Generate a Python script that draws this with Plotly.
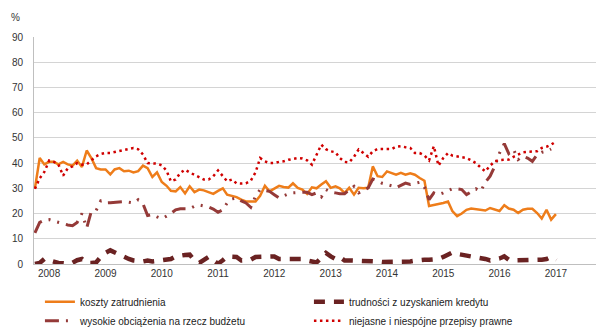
import pandas as pd
import plotly.graph_objects as go

# Monthly survey readings, Oct 2007 - Jan 2017 (% of firms citing the barrier)
months = pd.date_range("2007-10-01", periods=112, freq="MS")

koszty_zatrudnienia = [
    30, 42, 39.5, 40.5, 40.5, 39.5, 40.5, 39.5, 39, 41, 38.5, 45,
    42, 38, 37.5, 37.5, 35.5, 37.5, 38, 36.8, 37, 36.3, 36.8, 39,
    38, 34.5, 36.3, 32.5, 31, 29, 28.8, 30.5, 28, 30.8, 28.5, 29.5,
    29.2, 28.5, 27.8, 29, 30, 27.5, 27, 26.5, 25.5, 24.8, 24.8, 24.8,
    27, 31, 28.8, 29.8, 31, 30.5, 30.3, 32, 30.2, 29.5, 27.8, 30.4,
    30, 31.5, 32.8, 30.2, 30.8, 30, 28.2, 30.2, 27.5, 30.2, 30, 30.2,
    38.7, 34.8, 34.5, 36.7, 36, 35.4, 36.1, 35.4, 36, 35.4, 34.1, 33,
    23, 23.3, 23.8, 24.2, 24.8, 21, 19, 20, 21.5, 22, 21.8, 21.5,
    21.2, 22.2, 21.5, 21, 23.3, 22, 21.5, 20.2, 21.5, 21.9, 21.9, 20.2,
    18, 21.5, 17.6, 19.8,
]

trudnosci_kredyt = [
    0, 0.4, 2, 1.5, 0.8, 0.4, 0.3, 0.1, 0.5, 1.5, 2, 0.4,
    0.4, 0.6, 2.8, 4.4, 5.4, 4.5, 3.5, 3, 2, 1.4, 1.2, 1,
    1.4, 1, 1.2, 1.4, 1.4, 2, 3, 3.5, 3.6, 3.7, 1.4, 0.4,
    1.5, 2.8, 1.4, 0.1, 1.5, 3, 2.9, 2.8, 1.4, 1.5, 1.7, 2.8,
    2.8, 2.8, 2.9, 3, 2, 2, 2, 2.2, 2.4, 2, 1.4, 1,
    0.6, 2.5, 4.4, 3, 2, 2.8, 1.4, 1.4, 1.4, 1.4, 1.4, 1.4,
    1.2, 1, 0.8, 0.8, 0.8, 0.8, 0.8, 0.9, 1, 1.3, 1.7, 1.7,
    1.7, 1.8, 2, 2.8, 3.5, 4.6, 4, 3.7, 3.3, 3.2, 3, 2.5,
    2, 1.4, 1.6, 2.2, 3, 1.7, 1.4, 1.4, 1.4, 1.5, 1.6, 1.7,
    1.7, 2, 2.8, 1.4,
]

obciazenia_budzet = [
    12.3, 16.5, 17.4, 17.6, 17, 16.5, 15.9, 15.5, 15.2, 16.5, 20, 14.3,
    20.9, 21.2, 25, 24.2, 24.3, 24.4, 24.8, 24.7, 24.5, 24.2, 25.5, 23.9,
    19.2, 19.6, 18.7, 18, 19, 20, 21.5, 21.9, 21.9, 21.9, 22.9, 23.4,
    23, 22.6, 21.8, 20.5, 21.5, 24.2, 25.8, 26.2, 25, 24.2, 22.5, 26.8,
    29.5, 29, 28.8, 27.5, 26.2, 27, 27.8, 28.2, 28.4, 28.4, 28.4, 27.5,
    28.2, 26.6, 29.5, 28.5, 28.2, 27.9, 27.9, 29.5, 30.8, 28.2, 29.2, 30.2,
    33.7, 33, 32, 31.5, 31, 30.2, 31.1, 32.1, 31.5, 31.8, 32.4, 30.5,
    25.5, 28.2, 27.5, 28.2, 29.1, 29.8, 29.8, 29.5, 27.5, 28.5, 29.8, 28.8,
    32.4, 34.8, 38.7, 44, 47.7, 43.8, 45.4, 41.4, 42.7, 42, 40.7, 43.4,
    44.3, 44.7, 45.6, None,
]

niejasne_przepisy = [
    29.8, 34, 36.5, 41, 40.5, 39.5, 35, 38, 38.7, 40, 39.4, 39.5,
    41.1, 42.7, 43.6, 44, 44, 44.4, 44.7, 45, 45.6, 46, 45.5, 43.4,
    40, 39.8, 39.8, 39.1, 37, 32.8, 33.5, 36.1, 37.4, 36.3, 35.4, 34.5,
    33.5, 33.5, 34.8, 37.1, 35, 32.8, 33.5, 32, 31.9, 32, 33, 36.3,
    42, 40.7, 40, 40, 40.5, 40.7, 41.3, 41.7, 42, 41.8, 41.1, 39.4,
    43.4, 47.3, 45.5, 44.7, 44.3, 42, 40.5, 40.3, 42.5, 45.4, 44, 42.5,
    44.7, 45.6, 45.6, 45.6, 45.6, 46.5, 46.7, 46.3, 46, 44, 44, 43,
    41.1, 46.7, 39, 42, 44, 43, 42.7, 42.5, 42, 41.1, 40, 38.2,
    36.7, 39, 40.7, 41.2, 41.4, 41.4, 42.5, 43.5, 44.3, 44.5, 44.7, 44.7,
    46, 46.5, 47.3, 48.6,
]

years = [str(y) for y in range(2008, 2018)]

FONT = "Liberation Sans, Arial, sans-serif"

fig = go.Figure()

# Legend reads row by row: koszty | kredyt, then obciazenia | przepisy
fig.add_trace(go.Scatter(
    x=months, y=koszty_zatrudnienia, mode="lines",
    name="koszty zatrudnienia",
    line=dict(color="#EE7D1A", width=2.5),
))
fig.add_trace(go.Scatter(
    x=months, y=trudnosci_kredyt, mode="lines",
    name="trudności z uzyskaniem kredytu",
    line=dict(color="#6A2222", width=4.5, dash="11px,9px"),
))
fig.add_trace(go.Scatter(
    x=months, y=obciazenia_budzet, mode="lines",
    name="wysokie obciążenia na rzecz budżetu",
    line=dict(color="#953A38", width=3, dash="14px,7px,2px,7px,2px,7px"),
    connectgaps=False,
))
fig.add_trace(go.Scatter(
    x=months, y=niejasne_przepisy, mode="lines",
    name="niejasne i niespójne przepisy prawne",
    line=dict(color="#D00000", width=2.5, dash="2.5px,3.5px"),
))

fig.update_layout(
    width=596, height=328,
    margin=dict(l=34, r=0, t=37, b=64),
    paper_bgcolor="white", plot_bgcolor="white",
    font=dict(family=FONT, size=10, color="#333333"),
    showlegend=True,
    legend=dict(
        orientation="h",
        xref="container", yref="container",
        x=0.067, y=0.124, xanchor="left", yanchor="top",
        entrywidth=224, entrywidthmode="pixels",
        font=dict(family=FONT, size=10, color="#222222"),
        itemwidth=30, tracegroupgap=0,
        bgcolor="rgba(0,0,0,0)",
    ),
    annotations=[dict(
        text="%", xref="paper", yref="paper",
        x=-0.033, y=1.088, showarrow=False,
        xanchor="center", yanchor="middle",
        font=dict(family=FONT, size=10, color="#333333"),
    )],
)

fig.update_xaxes(
    type="date",
    range=["2007-09-25", "2017-09-18"],
    tickvals=[f"{y}-01-01" for y in years],
    ticktext=years,
    showgrid=False, zeroline=False,
    showline=True, linecolor="#BFBFBF", linewidth=1,
    ticks="", tickfont=dict(size=10, color="#333333"),
)
fig.update_yaxes(
    range=[0, 90], dtick=10,
    showgrid=True, gridcolor="#D4D4D4", gridwidth=1,
    zeroline=False,
    showline=True, linecolor="#BFBFBF", linewidth=1,
    ticks="", tickfont=dict(size=10, color="#333333"),
    ticklabelstandoff=8,
)

fig.write_html("out.html")
